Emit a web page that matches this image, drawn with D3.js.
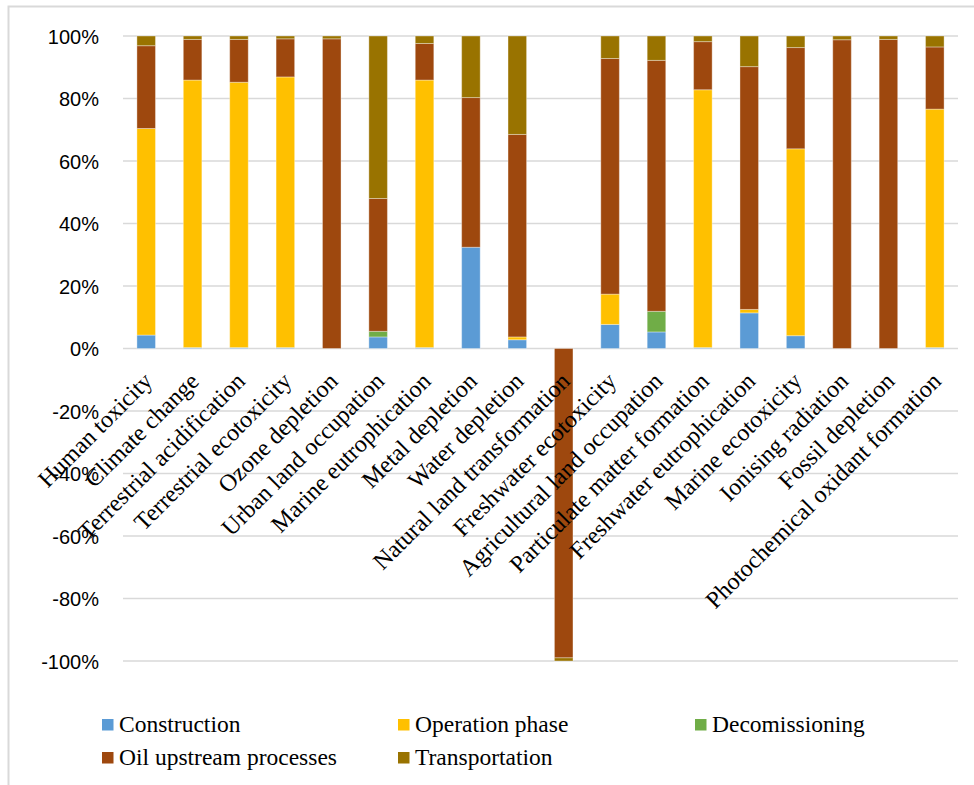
<!DOCTYPE html>
<html>
<head>
<meta charset="utf-8">
<script src="https://cdn.jsdelivr.net/npm/d3@7"></script>
<style>
  html, body { margin: 0; padding: 0; background: #fff; }
  svg { display: block; }
</style>
</head>
<body>
<svg id="chart" width="974" height="785"></svg>
<script>
const categories = [
  "Human toxicity", "Climate change", "Terrestrial acidification", "Terrestrial ecotoxicity",
  "Ozone depletion", "Urban land occupation", "Marine eutrophication", "Metal depletion",
  "Water depletion", "Natural land transformation", "Freshwater ecotoxicity",
  "Agricultural land occupation", "Particulate matter formation", "Freshwater eutrophication",
  "Marine ecotoxicity", "Ionising radiation", "Fossil depletion", "Photochemical oxidant formation"
];
const seriesNames = ["Construction", "Operation phase", "Decomissioning", "Oil upstream processes", "Transportation"];
const seriesColors = ["#5B9BD5", "#FFC000", "#70AD47", "#9E480E", "#997300"];

// values in percent
const construction   = [4.3, 0.3, 0.3, 0.3, 0, 3.7, 0.3, 32.4, 2.8, 0, 7.7, 5.3, 0.3, 11.4, 4.1, 0, 0, 0.3];
const operation      = [66.1, 85.6, 84.9, 86.6, 0, 0, 85.6, 0, 0.9, 0, 9.7, 0, 82.5, 1.1, 59.8, 0, 0, 76.3];
const decomissioning = [0, 0, 0, 0, 0, 1.8, 0, 0, 0, 0, 0, 6.6, 0, 0, 0, 0, 0, 0];
const oilUpstream    = [26.5, 13.0, 13.7, 12.2, 99.1, 42.5, 11.7, 47.9, 64.8, -99.0, 75.4, 80.3, 15.4, 77.7, 32.4, 98.8, 98.9, 19.9];
const transportation = [3.1, 1.1, 1.1, 0.9, 0.9, 52.0, 2.4, 19.7, 31.5, -1.0, 7.2, 7.8, 1.8, 9.8, 3.7, 1.2, 1.1, 3.5];

const yTicks = [-1, -0.8, -0.6, -0.4, -0.2, 0, 0.2, 0.4, 0.6, 0.8, 1];

const seriesValues = [construction, operation, decomissioning, oilUpstream, transportation];
const rows = categories.map((c, i) => {
  const r = { category: c };
  seriesNames.forEach((s, k) => { r[s] = seriesValues[k][i] / 100; });
  return r;
});

const svg = d3.select("#chart");
const plot = { left: 123, right: 958, top: 36, bottom: 661 };

// outer frame
svg.append("rect")
  .attr("x", 8.5).attr("y", 6.5).attr("width", 1000).attr("height", 1000)
  .attr("fill", "none").attr("stroke", "#d9d9d9").attr("stroke-width", 2);

const x = d3.scaleBand().domain(categories).range([plot.left, plot.right])
  .paddingInner(0.6).paddingOuter(0.3);
const y = d3.scaleLinear().domain([-1, 1]).range([plot.bottom, plot.top]);

// gridlines
svg.append("g").selectAll("line").data(yTicks).join("line")
  .attr("x1", plot.left).attr("x2", plot.right)
  .attr("y1", d => y(d)).attr("y2", d => y(d))
  .attr("stroke", "#d9d9d9").attr("stroke-width", 1.5);

// y axis labels
const yAxis = d3.axisLeft(y).tickValues(yTicks).tickSize(0).tickPadding(0)
  .tickFormat(d => Math.round(d * 100) + "%");
const yg = svg.append("g").attr("transform", `translate(99,0)`).call(yAxis);
yg.select(".domain").remove();
yg.selectAll("text")
  .attr("font-family", "'Liberation Sans', Arial, sans-serif")
  .attr("font-size", 20).attr("fill", "#000").attr("dy", "0.35em");

// stacked bars
const stack = d3.stack().keys(seriesNames).offset(d3.stackOffsetDiverging);
const layers = stack(rows);
svg.append("g").selectAll("g").data(layers).join("g")
  .attr("fill", (d, i) => seriesColors[i])
  .selectAll("rect").data(d => d.filter(p => p[1] - p[0] !== 0)).join("rect")
  .attr("x", d => x(d.data.category))
  .attr("width", x.bandwidth())
  .attr("y", d => y(Math.max(d[0], d[1])))
  .attr("height", d => Math.abs(y(d[0]) - y(d[1])))
  .attr("stroke", "#ffffff").attr("stroke-opacity", 0.35).attr("stroke-width", 1);

// category labels
svg.append("g").selectAll("text").data(categories).join("text")
  .attr("transform", d => `translate(${x(d) + x.bandwidth() / 2 + 7.6},${382.6}) rotate(-45)`)
  .attr("text-anchor", "end")
  .attr("font-family", "'Liberation Serif', 'Times New Roman', serif")
  .attr("font-size", 24).attr("fill", "#000")
  .text(d => d);

// legend
const legendPos = [
  { x: 102, y: 719 }, { x: 398, y: 719 }, { x: 695, y: 719 },
  { x: 102, y: 752 }, { x: 398, y: 752 }
];
const lg = svg.append("g").selectAll("g").data(seriesNames).join("g")
  .attr("transform", (d, i) => `translate(${legendPos[i].x},${legendPos[i].y})`);
lg.append("rect").attr("width", 11.5).attr("height", 11.5)
  .attr("fill", (d, i) => seriesColors[i]);
lg.append("text").attr("x", 17).attr("y", 13)
  .attr("font-family", "'Liberation Serif', 'Times New Roman', serif")
  .attr("font-size", 23.5).attr("fill", "#000")
  .text(d => d);
</script>
</body>
</html>
